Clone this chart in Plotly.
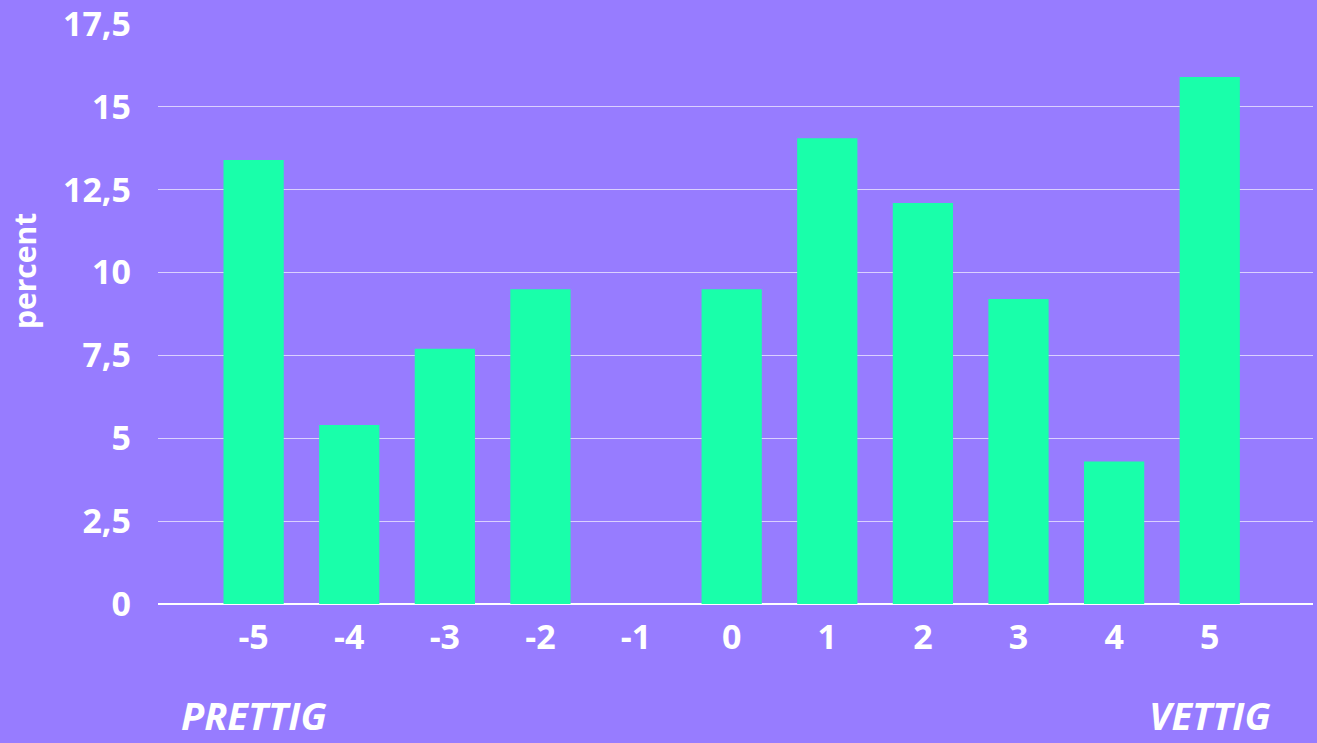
import plotly.graph_objects as go

# Score scale from "prettig" (-5) to "vettig" (5)
scores = [-5, -4, -3, -2, -1, 0, 1, 2, 3, 4, 5]
percent = [13.4, 5.4, 7.7, 9.5, 0.0, 9.5, 14.05, 12.1, 9.2, 4.3, 15.9]

y_ticks = [0, 2.5, 5, 7.5, 10, 12.5, 15, 17.5]
y_tick_text = ["0", "2,5", "5", "7,5", "10", "12,5", "15", "17,5"]

BG = "#977CFF"
BAR = "#19FFAA"
WHITE = "#FFFFFF"

TICK_FONT = dict(size=34, family="Open Sans", weight="bold", color=WHITE)
END_FONT = dict(size=38, family="Open Sans", weight="bold", style="italic", color=WHITE)

W, H = 1317, 743
M_L, M_R, M_T, M_B = 158, 4, 24, 139
plot_w = W - M_L - M_R
plot_h = H - M_T - M_B


def paper_x(px):
    return (px - M_L) / plot_w


def paper_y(py):
    return (H - M_B - py) / plot_h


fig = go.Figure(
    go.Bar(
        x=scores,
        y=percent,
        width=0.63,
        marker=dict(color=BAR, line=dict(width=0)),
        hoverinfo="x+y",
    )
)

fig.update_layout(
    width=W,
    height=H,
    margin=dict(l=M_L, r=M_R, t=M_T, b=M_B, autoexpand=False),
    paper_bgcolor=BG,
    plot_bgcolor=BG,
    showlegend=False,
    font=dict(family="Open Sans", color=WHITE),
    xaxis=dict(
        range=[-6, 6.08],
        tickmode="array",
        tickvals=scores,
        ticktext=[str(s) for s in scores],
        showgrid=False,
        zeroline=False,
        showline=False,
        ticks="",
        tickfont=TICK_FONT,
        ticklabelstandoff=10,
        automargin=False,
    ),
    yaxis=dict(
        range=[0, 17.5],
        tickmode="array",
        tickvals=y_ticks,
        ticktext=y_tick_text,
        showgrid=True,
        gridcolor="rgba(255,255,255,0.65)",
        gridwidth=1,
        zeroline=True,
        zerolinecolor=WHITE,
        zerolinewidth=1.5,
        showline=False,
        ticks="",
        tickfont=TICK_FONT,
        ticklabelstandoff=26,
        ticklabeloverflow="allow",
        automargin=False,
    ),
    annotations=[
        # vertical axis caption
        dict(
            x=paper_x(24), y=paper_y(271), xref="paper", yref="paper",
            text="percent", showarrow=False, textangle=-90,
            font=dict(size=30, family="Open Sans", weight="bold", color=WHITE),
            xanchor="center", yanchor="middle",
        ),
        dict(
            x=-5, y=paper_y(715), xref="x", yref="paper",
            text="PRETTIG", showarrow=False, font=END_FONT,
            xanchor="center", yanchor="middle",
        ),
        dict(
            x=5, y=paper_y(715), xref="x", yref="paper",
            text="VETTIG", showarrow=False, font=END_FONT,
            xanchor="center", yanchor="middle",
        ),
    ],
)

fig.write_html("out.html")
